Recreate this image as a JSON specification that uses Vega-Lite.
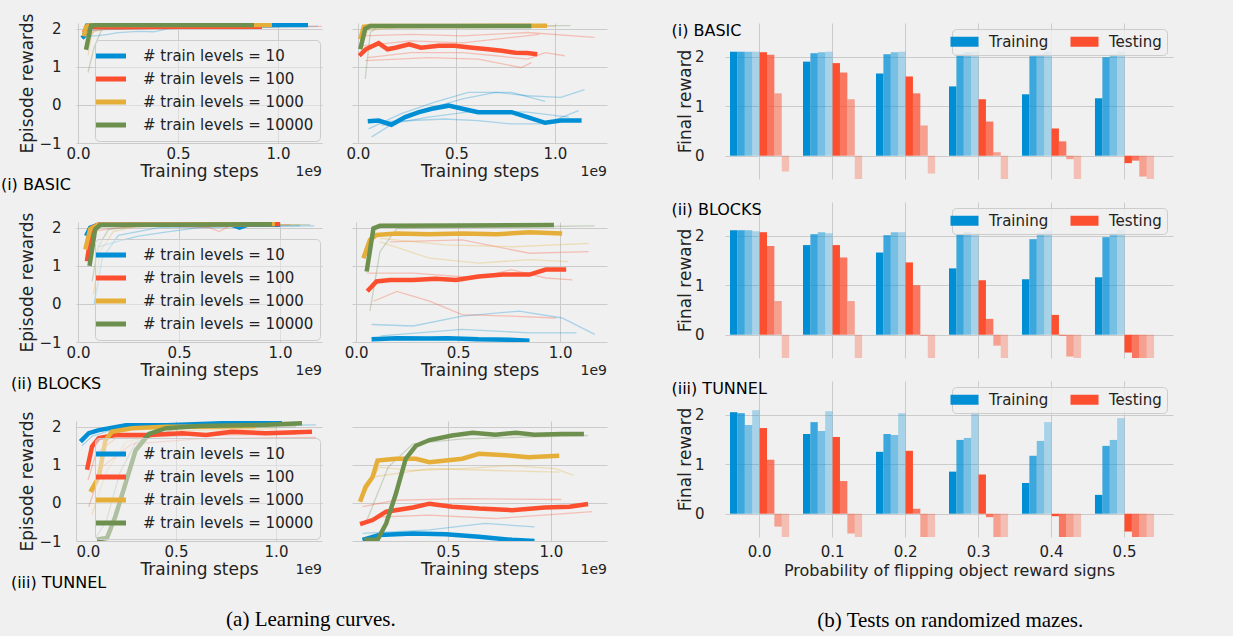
{
"$schema": "https://vega.github.io/schema/vega-lite/v6.json",
"background": "#f0f0f0",
"padding": {"left": 0, "top": 13, "right": 60, "bottom": 5},
"config": {
  "font": "DejaVu Sans",
  "view": {"stroke": null, "fill": "#f0f0f0"},
  "axis": {"grid": true, "gridColor": "#cbcbcb", "gridWidth": 1, "domain": false, "ticks": false, "labelFontSize": 15, "labelColor": "#222222", "titleFontSize": 17, "titleFontWeight": "normal", "titleColor": "#222222"},
  "title": {"fontWeight": "normal", "color": "#222222"}
},
"datasets": {
"lines": [
{"e":"B","p":"tr","l":"10","r":1,"x":0.04,"y":1.8},{"e":"B","p":"tr","l":"10","r":1,"x":0.1,"y":1.82},{"e":"B","p":"tr","l":"10","r":1,"x":0.15,"y":1.85},{"e":"B","p":"tr","l":"10","r":1,"x":0.2,"y":1.9},{"e":"B","p":"tr","l":"10","r":1,"x":0.3,"y":1.93},{"e":"B","p":"tr","l":"10","r":1,"x":0.38,"y":1.92},{"e":"B","p":"tr","l":"10","r":1,"x":0.45,"y":2.0},{"e":"B","p":"tr","l":"10","r":1,"x":0.7,"y":2.02},{"e":"B","p":"tr","l":"10","r":1,"x":1.0,"y":2.05},
{"e":"B","p":"tr","l":"10","r":2,"x":0.05,"y":1.95},{"e":"B","p":"tr","l":"10","r":2,"x":0.15,"y":1.98},{"e":"B","p":"tr","l":"10","r":2,"x":0.3,"y":2.0},{"e":"B","p":"tr","l":"10","r":2,"x":0.5,"y":2.03},{"e":"B","p":"tr","l":"10","r":2,"x":0.8,"y":2.05},{"e":"B","p":"tr","l":"10","r":2,"x":1.2,"y":2.06},
{"e":"B","p":"tr","l":"100","r":1,"x":0.04,"y":1.6},{"e":"B","p":"tr","l":"100","r":1,"x":0.08,"y":1.95},{"e":"B","p":"tr","l":"100","r":1,"x":0.2,"y":2.02},{"e":"B","p":"tr","l":"100","r":1,"x":0.6,"y":2.04},{"e":"B","p":"tr","l":"100","r":1,"x":1.22,"y":2.06},
{"e":"B","p":"tr","l":"1000","r":1,"x":0.05,"y":1.3},{"e":"B","p":"tr","l":"1000","r":1,"x":0.07,"y":1.9},{"e":"B","p":"tr","l":"1000","r":1,"x":0.15,"y":2.05},{"e":"B","p":"tr","l":"1000","r":1,"x":0.6,"y":2.08},{"e":"B","p":"tr","l":"1000","r":1,"x":1.1,"y":2.08},
{"e":"B","p":"tr","l":"10000","r":1,"x":0.05,"y":0.85},{"e":"B","p":"tr","l":"10000","r":1,"x":0.08,"y":1.5},{"e":"B","p":"tr","l":"10000","r":1,"x":0.12,"y":2.0},{"e":"B","p":"tr","l":"10000","r":1,"x":0.2,"y":2.08},{"e":"B","p":"tr","l":"10000","r":1,"x":0.8,"y":2.09},{"e":"B","p":"tr","l":"10000","r":1,"x":1.0,"y":2.1},
{"e":"B","p":"tr","l":"10","r":0,"x":0.02,"y":1.75},{"e":"B","p":"tr","l":"10","r":0,"x":0.03,"y":1.8},{"e":"B","p":"tr","l":"10","r":0,"x":0.045,"y":2.08},{"e":"B","p":"tr","l":"10","r":0,"x":0.1,"y":2.1},{"e":"B","p":"tr","l":"10","r":0,"x":0.5,"y":2.1},{"e":"B","p":"tr","l":"10","r":0,"x":1.0,"y":2.1},{"e":"B","p":"tr","l":"10","r":0,"x":1.15,"y":2.1},
{"e":"B","p":"tr","l":"100","r":0,"x":0.03,"y":1.9},{"e":"B","p":"tr","l":"100","r":0,"x":0.045,"y":2.05},{"e":"B","p":"tr","l":"100","r":0,"x":0.2,"y":2.04},{"e":"B","p":"tr","l":"100","r":0,"x":0.5,"y":2.05},{"e":"B","p":"tr","l":"100","r":0,"x":0.92,"y":2.05},
{"e":"B","p":"tr","l":"1000","r":0,"x":0.03,"y":1.8},{"e":"B","p":"tr","l":"1000","r":0,"x":0.04,"y":2.05},{"e":"B","p":"tr","l":"1000","r":0,"x":0.06,"y":2.1},{"e":"B","p":"tr","l":"1000","r":0,"x":0.5,"y":2.1},{"e":"B","p":"tr","l":"1000","r":0,"x":0.97,"y":2.1},
{"e":"B","p":"tr","l":"10000","r":0,"x":0.04,"y":1.45},{"e":"B","p":"tr","l":"10000","r":0,"x":0.05,"y":1.7},{"e":"B","p":"tr","l":"10000","r":0,"x":0.065,"y":2.08},{"e":"B","p":"tr","l":"10000","r":0,"x":0.1,"y":2.1},{"e":"B","p":"tr","l":"10000","r":0,"x":0.5,"y":2.1},{"e":"B","p":"tr","l":"10000","r":0,"x":0.88,"y":2.1},

{"e":"B","p":"te","l":"10","r":1,"x":0.07,"y":-0.84},{"e":"B","p":"te","l":"10","r":1,"x":0.19,"y":-0.45},{"e":"B","p":"te","l":"10","r":1,"x":0.36,"y":-0.1},{"e":"B","p":"te","l":"10","r":1,"x":0.53,"y":0.16},{"e":"B","p":"te","l":"10","r":1,"x":0.7,"y":0.33},{"e":"B","p":"te","l":"10","r":1,"x":0.86,"y":0.24},{"e":"B","p":"te","l":"10","r":1,"x":1.03,"y":0.2},{"e":"B","p":"te","l":"10","r":1,"x":1.15,"y":0.4},
{"e":"B","p":"te","l":"10","r":2,"x":0.054,"y":-0.63},{"e":"B","p":"te","l":"10","r":2,"x":0.22,"y":-0.23},{"e":"B","p":"te","l":"10","r":2,"x":0.39,"y":0.07},{"e":"B","p":"te","l":"10","r":2,"x":0.56,"y":0.33},{"e":"B","p":"te","l":"10","r":2,"x":0.78,"y":0.33},{"e":"B","p":"te","l":"10","r":2,"x":0.95,"y":0.09},
{"e":"B","p":"te","l":"10","r":3,"x":0.07,"y":-0.45},{"e":"B","p":"te","l":"10","r":3,"x":0.27,"y":-0.41},{"e":"B","p":"te","l":"10","r":3,"x":0.44,"y":-0.37},{"e":"B","p":"te","l":"10","r":3,"x":0.61,"y":-0.41},{"e":"B","p":"te","l":"10","r":3,"x":0.78,"y":-0.5},{"e":"B","p":"te","l":"10","r":3,"x":0.95,"y":-0.5},{"e":"B","p":"te","l":"10","r":3,"x":1.12,"y":-0.15},
{"e":"B","p":"te","l":"10","r":4,"x":0.12,"y":-0.54},{"e":"B","p":"te","l":"10","r":4,"x":0.36,"y":-0.32},{"e":"B","p":"te","l":"10","r":4,"x":0.61,"y":-0.15},{"e":"B","p":"te","l":"10","r":4,"x":0.86,"y":-0.19},{"e":"B","p":"te","l":"10","r":4,"x":1.07,"y":-0.32},
{"e":"B","p":"te","l":"100","r":1,"x":0.02,"y":1.81},{"e":"B","p":"te","l":"100","r":1,"x":0.27,"y":1.85},{"e":"B","p":"te","l":"100","r":1,"x":0.53,"y":1.81},{"e":"B","p":"te","l":"100","r":1,"x":0.86,"y":1.9},{"e":"B","p":"te","l":"100","r":1,"x":1.2,"y":1.77},
{"e":"B","p":"te","l":"100","r":2,"x":0.02,"y":1.55},{"e":"B","p":"te","l":"100","r":2,"x":0.27,"y":1.68},{"e":"B","p":"te","l":"100","r":2,"x":0.53,"y":1.63},{"e":"B","p":"te","l":"100","r":2,"x":0.92,"y":1.85},
{"e":"B","p":"te","l":"100","r":3,"x":0.05,"y":1.24},{"e":"B","p":"te","l":"100","r":3,"x":0.27,"y":1.37},{"e":"B","p":"te","l":"100","r":3,"x":0.53,"y":1.37},{"e":"B","p":"te","l":"100","r":3,"x":0.7,"y":1.29},{"e":"B","p":"te","l":"100","r":3,"x":0.86,"y":1.2},{"e":"B","p":"te","l":"100","r":3,"x":0.95,"y":1.37},{"e":"B","p":"te","l":"100","r":3,"x":1.05,"y":1.29},
{"e":"B","p":"te","l":"100","r":4,"x":0.037,"y":1.16},{"e":"B","p":"te","l":"100","r":4,"x":0.36,"y":1.24},{"e":"B","p":"te","l":"100","r":4,"x":0.61,"y":1.2},{"e":"B","p":"te","l":"100","r":4,"x":0.83,"y":0.98},{"e":"B","p":"te","l":"100","r":4,"x":0.88,"y":1.11},
{"e":"B","p":"te","l":"1000","r":1,"x":0.02,"y":1.6},{"e":"B","p":"te","l":"1000","r":1,"x":0.05,"y":1.95},{"e":"B","p":"te","l":"1000","r":1,"x":0.2,"y":2.03},{"e":"B","p":"te","l":"1000","r":1,"x":0.6,"y":2.05},{"e":"B","p":"te","l":"1000","r":1,"x":1.0,"y":2.06},
{"e":"B","p":"te","l":"10000","r":1,"x":0.037,"y":0.68},{"e":"B","p":"te","l":"10000","r":1,"x":0.063,"y":1.9},{"e":"B","p":"te","l":"10000","r":1,"x":0.1,"y":2.05},{"e":"B","p":"te","l":"10000","r":1,"x":0.6,"y":2.07},{"e":"B","p":"te","l":"10000","r":1,"x":1.08,"y":2.08},
{"e":"B","p":"te","l":"10","r":0,"x":0.05,"y":-0.43},{"e":"B","p":"te","l":"10","r":0,"x":0.105,"y":-0.41},{"e":"B","p":"te","l":"10","r":0,"x":0.17,"y":-0.52},{"e":"B","p":"te","l":"10","r":0,"x":0.24,"y":-0.32},{"e":"B","p":"te","l":"10","r":0,"x":0.31,"y":-0.19},{"e":"B","p":"te","l":"10","r":0,"x":0.375,"y":-0.1},{"e":"B","p":"te","l":"10","r":0,"x":0.46,"y":-0.02},{"e":"B","p":"te","l":"10","r":0,"x":0.53,"y":-0.1},{"e":"B","p":"te","l":"10","r":0,"x":0.61,"y":-0.19},{"e":"B","p":"te","l":"10","r":0,"x":0.7,"y":-0.19},{"e":"B","p":"te","l":"10","r":0,"x":0.78,"y":-0.19},{"e":"B","p":"te","l":"10","r":0,"x":0.86,"y":-0.32},{"e":"B","p":"te","l":"10","r":0,"x":0.95,"y":-0.47},{"e":"B","p":"te","l":"10","r":0,"x":1.03,"y":-0.41},{"e":"B","p":"te","l":"10","r":0,"x":1.135,"y":-0.41},
{"e":"B","p":"te","l":"100","r":0,"x":0.007,"y":1.29},{"e":"B","p":"te","l":"100","r":0,"x":0.04,"y":1.46},{"e":"B","p":"te","l":"100","r":0,"x":0.105,"y":1.62},{"e":"B","p":"te","l":"100","r":0,"x":0.15,"y":1.46},{"e":"B","p":"te","l":"100","r":0,"x":0.19,"y":1.5},{"e":"B","p":"te","l":"100","r":0,"x":0.26,"y":1.59},{"e":"B","p":"te","l":"100","r":0,"x":0.32,"y":1.5},{"e":"B","p":"te","l":"100","r":0,"x":0.41,"y":1.55},{"e":"B","p":"te","l":"100","r":0,"x":0.49,"y":1.55},{"e":"B","p":"te","l":"100","r":0,"x":0.58,"y":1.5},{"e":"B","p":"te","l":"100","r":0,"x":0.66,"y":1.46},{"e":"B","p":"te","l":"100","r":0,"x":0.73,"y":1.42},{"e":"B","p":"te","l":"100","r":0,"x":0.8,"y":1.37},{"e":"B","p":"te","l":"100","r":0,"x":0.86,"y":1.36},{"e":"B","p":"te","l":"100","r":0,"x":0.91,"y":1.33},
{"e":"B","p":"te","l":"1000","r":0,"x":0.012,"y":1.72},{"e":"B","p":"te","l":"1000","r":0,"x":0.03,"y":2.05},{"e":"B","p":"te","l":"1000","r":0,"x":0.06,"y":2.07},{"e":"B","p":"te","l":"1000","r":0,"x":0.5,"y":2.07},{"e":"B","p":"te","l":"1000","r":0,"x":0.96,"y":2.08},
{"e":"B","p":"te","l":"10000","r":0,"x":0.012,"y":1.46},{"e":"B","p":"te","l":"10000","r":0,"x":0.037,"y":2.0},{"e":"B","p":"te","l":"10000","r":0,"x":0.063,"y":2.07},{"e":"B","p":"te","l":"10000","r":0,"x":0.5,"y":2.07},{"e":"B","p":"te","l":"10000","r":0,"x":0.88,"y":2.07},

{"e":"K","p":"tr","l":"10","r":1,"x":0.1,"y":1.5},{"e":"K","p":"tr","l":"10","r":1,"x":0.2,"y":1.65},{"e":"K","p":"tr","l":"10","r":1,"x":0.3,"y":1.78},{"e":"K","p":"tr","l":"10","r":1,"x":0.45,"y":1.9},{"e":"K","p":"tr","l":"10","r":1,"x":0.6,"y":2.0},{"e":"K","p":"tr","l":"10","r":1,"x":0.9,"y":2.05},{"e":"K","p":"tr","l":"10","r":1,"x":1.17,"y":2.05},
{"e":"K","p":"tr","l":"10","r":2,"x":0.08,"y":0.0},{"e":"K","p":"tr","l":"10","r":2,"x":0.12,"y":1.2},{"e":"K","p":"tr","l":"10","r":2,"x":0.2,"y":1.8},{"e":"K","p":"tr","l":"10","r":2,"x":0.4,"y":2.0},{"e":"K","p":"tr","l":"10","r":2,"x":1.1,"y":2.05},
{"e":"K","p":"tr","l":"100","r":1,"x":0.06,"y":1.9},{"e":"K","p":"tr","l":"100","r":1,"x":0.2,"y":2.0},{"e":"K","p":"tr","l":"100","r":1,"x":0.4,"y":2.05},{"e":"K","p":"tr","l":"100","r":1,"x":0.65,"y":2.0},{"e":"K","p":"tr","l":"100","r":1,"x":0.7,"y":1.9},{"e":"K","p":"tr","l":"100","r":1,"x":0.75,"y":2.05},{"e":"K","p":"tr","l":"100","r":1,"x":1.05,"y":2.08},
{"e":"K","p":"tr","l":"1000","r":1,"x":0.077,"y":0.25},{"e":"K","p":"tr","l":"1000","r":1,"x":0.11,"y":1.38},{"e":"K","p":"tr","l":"1000","r":1,"x":0.175,"y":1.9},{"e":"K","p":"tr","l":"1000","r":1,"x":0.3,"y":2.05},{"e":"K","p":"tr","l":"1000","r":1,"x":1.1,"y":2.08},
{"e":"K","p":"tr","l":"10000","r":1,"x":0.07,"y":0.6},{"e":"K","p":"tr","l":"10000","r":1,"x":0.1,"y":1.5},{"e":"K","p":"tr","l":"10000","r":1,"x":0.15,"y":1.95},{"e":"K","p":"tr","l":"10000","r":1,"x":0.3,"y":2.05},{"e":"K","p":"tr","l":"10000","r":1,"x":1.15,"y":2.08},
{"e":"K","p":"tr","l":"10","r":0,"x":0.04,"y":1.78},{"e":"K","p":"tr","l":"10","r":0,"x":0.06,"y":2.0},{"e":"K","p":"tr","l":"10","r":0,"x":0.1,"y":2.08},{"e":"K","p":"tr","l":"10","r":0,"x":0.5,"y":2.08},{"e":"K","p":"tr","l":"10","r":0,"x":0.76,"y":2.08},{"e":"K","p":"tr","l":"10","r":0,"x":0.8,"y":2.0},{"e":"K","p":"tr","l":"10","r":0,"x":0.84,"y":2.08},{"e":"K","p":"tr","l":"10","r":0,"x":1.0,"y":2.08},
{"e":"K","p":"tr","l":"100","r":0,"x":0.044,"y":1.12},{"e":"K","p":"tr","l":"100","r":0,"x":0.07,"y":2.0},{"e":"K","p":"tr","l":"100","r":0,"x":0.1,"y":2.08},{"e":"K","p":"tr","l":"100","r":0,"x":0.5,"y":2.08},{"e":"K","p":"tr","l":"100","r":0,"x":1.0,"y":2.1},
{"e":"K","p":"tr","l":"1000","r":0,"x":0.036,"y":1.43},{"e":"K","p":"tr","l":"1000","r":0,"x":0.06,"y":1.96},{"e":"K","p":"tr","l":"1000","r":0,"x":0.1,"y":2.08},{"e":"K","p":"tr","l":"1000","r":0,"x":0.5,"y":2.08},{"e":"K","p":"tr","l":"1000","r":0,"x":0.975,"y":2.1},
{"e":"K","p":"tr","l":"10000","r":0,"x":0.057,"y":1.0},{"e":"K","p":"tr","l":"10000","r":0,"x":0.085,"y":1.96},{"e":"K","p":"tr","l":"10000","r":0,"x":0.11,"y":2.07},{"e":"K","p":"tr","l":"10000","r":0,"x":0.5,"y":2.08},{"e":"K","p":"tr","l":"10000","r":0,"x":0.96,"y":2.09},

{"e":"K","p":"te","l":"10","r":1,"x":0.076,"y":-0.54},{"e":"K","p":"te","l":"10","r":1,"x":0.28,"y":-0.58},{"e":"K","p":"te","l":"10","r":1,"x":0.52,"y":-0.32},{"e":"K","p":"te","l":"10","r":1,"x":0.8,"y":-0.19},{"e":"K","p":"te","l":"10","r":1,"x":1.01,"y":-0.37},{"e":"K","p":"te","l":"10","r":1,"x":1.17,"y":-0.8},
{"e":"K","p":"te","l":"10","r":2,"x":0.12,"y":-0.84},{"e":"K","p":"te","l":"10","r":2,"x":0.52,"y":-0.67},{"e":"K","p":"te","l":"10","r":2,"x":0.85,"y":-0.76},{"e":"K","p":"te","l":"10","r":2,"x":1.08,"y":-0.76},
{"e":"K","p":"te","l":"100","r":1,"x":0.085,"y":0.07},{"e":"K","p":"te","l":"100","r":1,"x":0.2,"y":0.33},{"e":"K","p":"te","l":"100","r":1,"x":0.36,"y":0.07},{"e":"K","p":"te","l":"100","r":1,"x":0.52,"y":-0.28},{"e":"K","p":"te","l":"100","r":1,"x":0.76,"y":-0.32},{"e":"K","p":"te","l":"100","r":1,"x":0.98,"y":-0.37},
{"e":"K","p":"te","l":"100","r":2,"x":0.052,"y":0.81},{"e":"K","p":"te","l":"100","r":2,"x":0.28,"y":0.81},{"e":"K","p":"te","l":"100","r":2,"x":0.6,"y":0.68},{"e":"K","p":"te","l":"100","r":2,"x":0.76,"y":0.9},{"e":"K","p":"te","l":"100","r":2,"x":0.93,"y":0.68},{"e":"K","p":"te","l":"100","r":2,"x":1.06,"y":0.63},
{"e":"K","p":"te","l":"100","r":3,"x":0.166,"y":1.63},{"e":"K","p":"te","l":"100","r":3,"x":0.52,"y":1.68},{"e":"K","p":"te","l":"100","r":3,"x":0.85,"y":1.33},{"e":"K","p":"te","l":"100","r":3,"x":1.14,"y":1.37},
{"e":"K","p":"te","l":"1000","r":1,"x":0.117,"y":1.63},{"e":"K","p":"te","l":"1000","r":1,"x":0.36,"y":1.2},{"e":"K","p":"te","l":"1000","r":1,"x":0.6,"y":1.07},{"e":"K","p":"te","l":"1000","r":1,"x":0.85,"y":1.16},{"e":"K","p":"te","l":"1000","r":1,"x":1.04,"y":1.11},
{"e":"K","p":"te","l":"1000","r":2,"x":0.117,"y":1.72},{"e":"K","p":"te","l":"1000","r":2,"x":0.44,"y":1.55},{"e":"K","p":"te","l":"1000","r":2,"x":0.77,"y":1.5},{"e":"K","p":"te","l":"1000","r":2,"x":1.14,"y":1.59},
{"e":"K","p":"te","l":"10000","r":1,"x":0.068,"y":-0.19},{"e":"K","p":"te","l":"10000","r":1,"x":0.117,"y":1.37},{"e":"K","p":"te","l":"10000","r":1,"x":0.2,"y":1.98},{"e":"K","p":"te","l":"10000","r":1,"x":1.17,"y":2.05},
{"e":"K","p":"te","l":"10","r":0,"x":0.076,"y":-0.93},{"e":"K","p":"te","l":"10","r":0,"x":0.2,"y":-0.9},{"e":"K","p":"te","l":"10","r":0,"x":0.36,"y":-0.91},{"e":"K","p":"te","l":"10","r":0,"x":0.45,"y":-0.9},{"e":"K","p":"te","l":"10","r":0,"x":0.6,"y":-0.93},{"e":"K","p":"te","l":"10","r":0,"x":0.75,"y":-0.94},{"e":"K","p":"te","l":"10","r":0,"x":0.85,"y":-0.97},
{"e":"K","p":"te","l":"100","r":0,"x":0.055,"y":0.33},{"e":"K","p":"te","l":"100","r":0,"x":0.1,"y":0.59},{"e":"K","p":"te","l":"100","r":0,"x":0.166,"y":0.63},{"e":"K","p":"te","l":"100","r":0,"x":0.28,"y":0.63},{"e":"K","p":"te","l":"100","r":0,"x":0.39,"y":0.66},{"e":"K","p":"te","l":"100","r":0,"x":0.49,"y":0.63},{"e":"K","p":"te","l":"100","r":0,"x":0.6,"y":0.72},{"e":"K","p":"te","l":"100","r":0,"x":0.72,"y":0.77},{"e":"K","p":"te","l":"100","r":0,"x":0.85,"y":0.77},{"e":"K","p":"te","l":"100","r":0,"x":0.93,"y":0.9},{"e":"K","p":"te","l":"100","r":0,"x":1.03,"y":0.9},
{"e":"K","p":"te","l":"1000","r":0,"x":0.036,"y":1.2},{"e":"K","p":"te","l":"1000","r":0,"x":0.068,"y":1.68},{"e":"K","p":"te","l":"1000","r":0,"x":0.1,"y":1.81},{"e":"K","p":"te","l":"1000","r":0,"x":0.2,"y":1.85},{"e":"K","p":"te","l":"1000","r":0,"x":0.36,"y":1.83},{"e":"K","p":"te","l":"1000","r":0,"x":0.52,"y":1.85},{"e":"K","p":"te","l":"1000","r":0,"x":0.69,"y":1.83},{"e":"K","p":"te","l":"1000","r":0,"x":0.85,"y":1.88},{"e":"K","p":"te","l":"1000","r":0,"x":1.01,"y":1.85},
{"e":"K","p":"te","l":"10000","r":0,"x":0.052,"y":0.85},{"e":"K","p":"te","l":"10000","r":0,"x":0.085,"y":1.98},{"e":"K","p":"te","l":"10000","r":0,"x":0.117,"y":2.05},{"e":"K","p":"te","l":"10000","r":0,"x":0.5,"y":2.06},{"e":"K","p":"te","l":"10000","r":0,"x":0.97,"y":2.07},

{"e":"T","p":"tr","l":"10","r":1,"x":0.03,"y":1.5},{"e":"T","p":"tr","l":"10","r":1,"x":0.08,"y":1.75},{"e":"T","p":"tr","l":"10","r":1,"x":0.2,"y":1.95},{"e":"T","p":"tr","l":"10","r":1,"x":0.5,"y":2.0},{"e":"T","p":"tr","l":"10","r":1,"x":1.2,"y":2.05},
{"e":"T","p":"tr","l":"100","r":1,"x":0.064,"y":-0.1},{"e":"T","p":"tr","l":"100","r":1,"x":0.13,"y":0.94},{"e":"T","p":"tr","l":"100","r":1,"x":0.28,"y":1.55},{"e":"T","p":"tr","l":"100","r":1,"x":0.62,"y":1.68},{"e":"T","p":"tr","l":"100","r":1,"x":1.2,"y":1.72},
{"e":"T","p":"tr","l":"100","r":2,"x":0.06,"y":0.6},{"e":"T","p":"tr","l":"100","r":2,"x":0.1,"y":1.3},{"e":"T","p":"tr","l":"100","r":2,"x":0.2,"y":1.7},{"e":"T","p":"tr","l":"100","r":2,"x":0.6,"y":1.78},{"e":"T","p":"tr","l":"100","r":2,"x":1.1,"y":1.8},
{"e":"T","p":"tr","l":"1000","r":1,"x":0.08,"y":-0.3},{"e":"T","p":"tr","l":"1000","r":1,"x":0.15,"y":0.8},{"e":"T","p":"tr","l":"1000","r":1,"x":0.25,"y":1.6},{"e":"T","p":"tr","l":"1000","r":1,"x":0.5,"y":1.9},{"e":"T","p":"tr","l":"1000","r":1,"x":1.0,"y":1.95},
{"e":"T","p":"tr","l":"10000","r":1,"x":0.1,"y":-0.9},{"e":"T","p":"tr","l":"10000","r":1,"x":0.15,"y":-0.5},{"e":"T","p":"tr","l":"10000","r":1,"x":0.22,"y":0.8},{"e":"T","p":"tr","l":"10000","r":1,"x":0.3,"y":1.6},{"e":"T","p":"tr","l":"10000","r":1,"x":0.5,"y":1.95},{"e":"T","p":"tr","l":"10000","r":1,"x":1.1,"y":2.0},
{"e":"T","p":"tr","l":"10","r":0,"x":0.022,"y":1.61},{"e":"T","p":"tr","l":"10","r":0,"x":0.064,"y":1.83},{"e":"T","p":"tr","l":"10","r":0,"x":0.114,"y":1.91},{"e":"T","p":"tr","l":"10","r":0,"x":0.25,"y":2.04},{"e":"T","p":"tr","l":"10","r":0,"x":0.45,"y":2.04},{"e":"T","p":"tr","l":"10","r":0,"x":0.78,"y":2.1},{"e":"T","p":"tr","l":"10","r":0,"x":1.03,"y":2.13},
{"e":"T","p":"tr","l":"100","r":0,"x":0.055,"y":0.87},{"e":"T","p":"tr","l":"100","r":0,"x":0.08,"y":1.48},{"e":"T","p":"tr","l":"100","r":0,"x":0.114,"y":1.7},{"e":"T","p":"tr","l":"100","r":0,"x":0.2,"y":1.78},{"e":"T","p":"tr","l":"100","r":0,"x":0.36,"y":1.78},{"e":"T","p":"tr","l":"100","r":0,"x":0.53,"y":1.83},{"e":"T","p":"tr","l":"100","r":0,"x":0.65,"y":1.78},{"e":"T","p":"tr","l":"100","r":0,"x":0.78,"y":1.87},{"e":"T","p":"tr","l":"100","r":0,"x":0.95,"y":1.83},{"e":"T","p":"tr","l":"100","r":0,"x":1.18,"y":1.87},
{"e":"T","p":"tr","l":"1000","r":0,"x":0.072,"y":0.29},{"e":"T","p":"tr","l":"1000","r":0,"x":0.114,"y":0.68},{"e":"T","p":"tr","l":"1000","r":0,"x":0.147,"y":1.64},{"e":"T","p":"tr","l":"1000","r":0,"x":0.18,"y":1.87},{"e":"T","p":"tr","l":"1000","r":0,"x":0.28,"y":1.96},{"e":"T","p":"tr","l":"1000","r":0,"x":0.45,"y":2.0},{"e":"T","p":"tr","l":"1000","r":0,"x":0.62,"y":2.0},{"e":"T","p":"tr","l":"1000","r":0,"x":0.9,"y":2.02},
{"e":"T","p":"tr","l":"10000","r":0,"x":0.105,"y":-0.96},{"e":"T","p":"tr","l":"10000","r":0,"x":0.155,"y":-0.92},{"e":"T","p":"tr","l":"10000","r":0,"x":0.197,"y":-0.35},{"e":"T","p":"tr","l":"10000","r":0,"x":0.247,"y":0.5},{"e":"T","p":"tr","l":"10000","r":0,"x":0.298,"y":1.38},{"e":"T","p":"tr","l":"10000","r":0,"x":0.365,"y":1.81},{"e":"T","p":"tr","l":"10000","r":0,"x":0.45,"y":1.96},{"e":"T","p":"tr","l":"10000","r":0,"x":0.615,"y":2.02},{"e":"T","p":"tr","l":"10000","r":0,"x":0.95,"y":2.05},{"e":"T","p":"tr","l":"10000","r":0,"x":1.13,"y":2.09},

{"e":"T","p":"te","l":"10","r":1,"x":0.085,"y":-0.8},{"e":"T","p":"te","l":"10","r":1,"x":0.41,"y":-0.71},{"e":"T","p":"te","l":"10","r":1,"x":0.68,"y":-0.54},{"e":"T","p":"te","l":"10","r":1,"x":0.92,"y":-0.63},
{"e":"T","p":"te","l":"100","r":1,"x":0.085,"y":-0.1},{"e":"T","p":"te","l":"100","r":1,"x":0.247,"y":0.07},{"e":"T","p":"te","l":"100","r":1,"x":0.57,"y":0.11},{"e":"T","p":"te","l":"100","r":1,"x":1.05,"y":0.09},
{"e":"T","p":"te","l":"100","r":2,"x":0.166,"y":-0.37},{"e":"T","p":"te","l":"100","r":2,"x":0.41,"y":-0.32},{"e":"T","p":"te","l":"100","r":2,"x":0.73,"y":-0.41},{"e":"T","p":"te","l":"100","r":2,"x":1.2,"y":-0.23},
{"e":"T","p":"te","l":"1000","r":1,"x":0.085,"y":0.16},{"e":"T","p":"te","l":"1000","r":1,"x":0.166,"y":0.94},{"e":"T","p":"te","l":"1000","r":1,"x":0.33,"y":0.85},{"e":"T","p":"te","l":"1000","r":1,"x":0.57,"y":0.9},{"e":"T","p":"te","l":"1000","r":1,"x":0.81,"y":0.98},{"e":"T","p":"te","l":"1000","r":1,"x":1.02,"y":0.9},{"e":"T","p":"te","l":"1000","r":1,"x":1.11,"y":0.72},
{"e":"T","p":"te","l":"1000","r":2,"x":0.134,"y":0.68},{"e":"T","p":"te","l":"1000","r":2,"x":0.41,"y":0.9},{"e":"T","p":"te","l":"1000","r":2,"x":0.73,"y":0.85},{"e":"T","p":"te","l":"1000","r":2,"x":1.04,"y":0.81},
{"e":"T","p":"te","l":"10000","r":1,"x":0.1,"y":-0.54},{"e":"T","p":"te","l":"10000","r":1,"x":0.21,"y":0.94},{"e":"T","p":"te","l":"10000","r":1,"x":0.33,"y":1.55},{"e":"T","p":"te","l":"10000","r":1,"x":0.57,"y":1.68},{"e":"T","p":"te","l":"10000","r":1,"x":1.18,"y":1.77},
{"e":"T","p":"te","l":"10","r":0,"x":0.085,"y":-0.97},{"e":"T","p":"te","l":"10","r":0,"x":0.166,"y":-0.84},{"e":"T","p":"te","l":"10","r":0,"x":0.33,"y":-0.8},{"e":"T","p":"te","l":"10","r":0,"x":0.49,"y":-0.82},{"e":"T","p":"te","l":"10","r":0,"x":0.65,"y":-0.89},{"e":"T","p":"te","l":"10","r":0,"x":0.81,"y":-0.97},{"e":"T","p":"te","l":"10","r":0,"x":0.92,"y":-1.0},
{"e":"T","p":"te","l":"100","r":0,"x":0.073,"y":-0.56},{"e":"T","p":"te","l":"100","r":0,"x":0.134,"y":-0.45},{"e":"T","p":"te","l":"100","r":0,"x":0.2,"y":-0.23},{"e":"T","p":"te","l":"100","r":0,"x":0.33,"y":-0.12},{"e":"T","p":"te","l":"100","r":0,"x":0.41,"y":-0.02},{"e":"T","p":"te","l":"100","r":0,"x":0.52,"y":-0.1},{"e":"T","p":"te","l":"100","r":0,"x":0.65,"y":-0.15},{"e":"T","p":"te","l":"100","r":0,"x":0.81,"y":-0.19},{"e":"T","p":"te","l":"100","r":0,"x":0.97,"y":-0.12},{"e":"T","p":"te","l":"100","r":0,"x":1.09,"y":-0.1},{"e":"T","p":"te","l":"100","r":0,"x":1.18,"y":-0.03},
{"e":"T","p":"te","l":"1000","r":0,"x":0.073,"y":0.03},{"e":"T","p":"te","l":"1000","r":0,"x":0.1,"y":0.42},{"e":"T","p":"te","l":"1000","r":0,"x":0.134,"y":0.68},{"e":"T","p":"te","l":"1000","r":0,"x":0.158,"y":1.11},{"e":"T","p":"te","l":"1000","r":0,"x":0.247,"y":1.16},{"e":"T","p":"te","l":"1000","r":0,"x":0.344,"y":1.16},{"e":"T","p":"te","l":"1000","r":0,"x":0.41,"y":1.07},{"e":"T","p":"te","l":"1000","r":0,"x":0.57,"y":1.16},{"e":"T","p":"te","l":"1000","r":0,"x":0.65,"y":1.29},{"e":"T","p":"te","l":"1000","r":0,"x":0.81,"y":1.24},{"e":"T","p":"te","l":"1000","r":0,"x":0.89,"y":1.2},{"e":"T","p":"te","l":"1000","r":0,"x":1.04,"y":1.24},
{"e":"T","p":"te","l":"10000","r":0,"x":0.094,"y":-0.97},{"e":"T","p":"te","l":"10000","r":0,"x":0.158,"y":-0.97},{"e":"T","p":"te","l":"10000","r":0,"x":0.2,"y":-0.54},{"e":"T","p":"te","l":"10000","r":0,"x":0.247,"y":0.24},{"e":"T","p":"te","l":"10000","r":0,"x":0.295,"y":1.16},{"e":"T","p":"te","l":"10000","r":0,"x":0.344,"y":1.5},{"e":"T","p":"te","l":"10000","r":0,"x":0.41,"y":1.65},{"e":"T","p":"te","l":"10000","r":0,"x":0.52,"y":1.77},{"e":"T","p":"te","l":"10000","r":0,"x":0.62,"y":1.84},{"e":"T","p":"te","l":"10000","r":0,"x":0.73,"y":1.79},{"e":"T","p":"te","l":"10000","r":0,"x":0.83,"y":1.84},{"e":"T","p":"te","l":"10000","r":0,"x":0.92,"y":1.79},{"e":"T","p":"te","l":"10000","r":0,"x":1.05,"y":1.81},{"e":"T","p":"te","l":"10000","r":0,"x":1.16,"y":1.81}
],
"bars": [
{"e":"B","prob":"0.0","bar":0,"kind":"Training","s":1,"v":2.1},{"e":"B","prob":"0.0","bar":1,"kind":"Training","s":2,"v":2.1},{"e":"B","prob":"0.0","bar":2,"kind":"Training","s":3,"v":2.1},{"e":"B","prob":"0.0","bar":3,"kind":"Training","s":4,"v":2.1},{"e":"B","prob":"0.0","bar":4,"kind":"Testing","s":1,"v":2.09},{"e":"B","prob":"0.0","bar":5,"kind":"Testing","s":2,"v":2.04},{"e":"B","prob":"0.0","bar":6,"kind":"Testing","s":3,"v":1.26},{"e":"B","prob":"0.0","bar":7,"kind":"Testing","s":4,"v":-0.32},
{"e":"B","prob":"0.1","bar":0,"kind":"Training","s":1,"v":1.9},{"e":"B","prob":"0.1","bar":1,"kind":"Training","s":2,"v":2.07},{"e":"B","prob":"0.1","bar":2,"kind":"Training","s":3,"v":2.09},{"e":"B","prob":"0.1","bar":3,"kind":"Training","s":4,"v":2.1},{"e":"B","prob":"0.1","bar":4,"kind":"Testing","s":1,"v":1.87},{"e":"B","prob":"0.1","bar":5,"kind":"Testing","s":2,"v":1.68},{"e":"B","prob":"0.1","bar":6,"kind":"Testing","s":3,"v":1.14},{"e":"B","prob":"0.1","bar":7,"kind":"Testing","s":4,"v":-0.6},
{"e":"B","prob":"0.2","bar":0,"kind":"Training","s":1,"v":1.66},{"e":"B","prob":"0.2","bar":1,"kind":"Training","s":2,"v":2.05},{"e":"B","prob":"0.2","bar":2,"kind":"Training","s":3,"v":2.09},{"e":"B","prob":"0.2","bar":3,"kind":"Training","s":4,"v":2.1},{"e":"B","prob":"0.2","bar":4,"kind":"Testing","s":1,"v":1.6},{"e":"B","prob":"0.2","bar":5,"kind":"Testing","s":2,"v":1.26},{"e":"B","prob":"0.2","bar":6,"kind":"Testing","s":3,"v":0.61},{"e":"B","prob":"0.2","bar":7,"kind":"Testing","s":4,"v":-0.36},
{"e":"B","prob":"0.3","bar":0,"kind":"Training","s":1,"v":1.4},{"e":"B","prob":"0.3","bar":1,"kind":"Training","s":2,"v":2.05},{"e":"B","prob":"0.3","bar":2,"kind":"Training","s":3,"v":2.09},{"e":"B","prob":"0.3","bar":3,"kind":"Training","s":4,"v":2.1},{"e":"B","prob":"0.3","bar":4,"kind":"Testing","s":1,"v":1.14},{"e":"B","prob":"0.3","bar":5,"kind":"Testing","s":2,"v":0.69},{"e":"B","prob":"0.3","bar":6,"kind":"Testing","s":3,"v":0.07},{"e":"B","prob":"0.3","bar":7,"kind":"Testing","s":4,"v":-0.6},
{"e":"B","prob":"0.4","bar":0,"kind":"Training","s":1,"v":1.24},{"e":"B","prob":"0.4","bar":1,"kind":"Training","s":2,"v":2.01},{"e":"B","prob":"0.4","bar":2,"kind":"Training","s":3,"v":2.05},{"e":"B","prob":"0.4","bar":3,"kind":"Training","s":4,"v":2.1},{"e":"B","prob":"0.4","bar":4,"kind":"Testing","s":1,"v":0.55},{"e":"B","prob":"0.4","bar":5,"kind":"Testing","s":2,"v":0.29},{"e":"B","prob":"0.4","bar":6,"kind":"Testing","s":3,"v":-0.07},{"e":"B","prob":"0.4","bar":7,"kind":"Testing","s":4,"v":-0.6},
{"e":"B","prob":"0.5","bar":0,"kind":"Training","s":1,"v":1.16},{"e":"B","prob":"0.5","bar":1,"kind":"Training","s":2,"v":1.99},{"e":"B","prob":"0.5","bar":2,"kind":"Training","s":3,"v":2.05},{"e":"B","prob":"0.5","bar":3,"kind":"Training","s":4,"v":2.1},{"e":"B","prob":"0.5","bar":4,"kind":"Testing","s":1,"v":-0.15},{"e":"B","prob":"0.5","bar":5,"kind":"Testing","s":2,"v":-0.1},{"e":"B","prob":"0.5","bar":6,"kind":"Testing","s":3,"v":-0.42},{"e":"B","prob":"0.5","bar":7,"kind":"Testing","s":4,"v":-0.6},
{"e":"K","prob":"0.0","bar":0,"kind":"Training","s":1,"v":2.11},{"e":"K","prob":"0.0","bar":1,"kind":"Training","s":2,"v":2.11},{"e":"K","prob":"0.0","bar":2,"kind":"Training","s":3,"v":2.11},{"e":"K","prob":"0.0","bar":3,"kind":"Training","s":4,"v":2.09},{"e":"K","prob":"0.0","bar":4,"kind":"Testing","s":1,"v":2.07},{"e":"K","prob":"0.0","bar":5,"kind":"Testing","s":2,"v":1.79},{"e":"K","prob":"0.0","bar":6,"kind":"Testing","s":3,"v":0.68},{"e":"K","prob":"0.0","bar":7,"kind":"Testing","s":4,"v":-0.6},
{"e":"K","prob":"0.1","bar":0,"kind":"Training","s":1,"v":1.81},{"e":"K","prob":"0.1","bar":1,"kind":"Training","s":2,"v":2.03},{"e":"K","prob":"0.1","bar":2,"kind":"Training","s":3,"v":2.07},{"e":"K","prob":"0.1","bar":3,"kind":"Training","s":4,"v":2.05},{"e":"K","prob":"0.1","bar":4,"kind":"Testing","s":1,"v":1.81},{"e":"K","prob":"0.1","bar":5,"kind":"Testing","s":2,"v":1.56},{"e":"K","prob":"0.1","bar":6,"kind":"Testing","s":3,"v":0.68},{"e":"K","prob":"0.1","bar":7,"kind":"Testing","s":4,"v":-0.6},
{"e":"K","prob":"0.2","bar":0,"kind":"Training","s":1,"v":1.66},{"e":"K","prob":"0.2","bar":1,"kind":"Training","s":2,"v":2.01},{"e":"K","prob":"0.2","bar":2,"kind":"Training","s":3,"v":2.07},{"e":"K","prob":"0.2","bar":3,"kind":"Training","s":4,"v":2.07},{"e":"K","prob":"0.2","bar":4,"kind":"Testing","s":1,"v":1.46},{"e":"K","prob":"0.2","bar":5,"kind":"Testing","s":2,"v":1.0},{"e":"K","prob":"0.2","bar":6,"kind":"Testing","s":3,"v":-0.02},{"e":"K","prob":"0.2","bar":7,"kind":"Testing","s":4,"v":-0.6},
{"e":"K","prob":"0.3","bar":0,"kind":"Training","s":1,"v":1.34},{"e":"K","prob":"0.3","bar":1,"kind":"Training","s":2,"v":2.03},{"e":"K","prob":"0.3","bar":2,"kind":"Training","s":3,"v":2.07},{"e":"K","prob":"0.3","bar":3,"kind":"Training","s":4,"v":2.05},{"e":"K","prob":"0.3","bar":4,"kind":"Testing","s":1,"v":1.1},{"e":"K","prob":"0.3","bar":5,"kind":"Testing","s":2,"v":0.32},{"e":"K","prob":"0.3","bar":6,"kind":"Testing","s":3,"v":-0.22},{"e":"K","prob":"0.3","bar":7,"kind":"Testing","s":4,"v":-0.6},
{"e":"K","prob":"0.4","bar":0,"kind":"Training","s":1,"v":1.12},{"e":"K","prob":"0.4","bar":1,"kind":"Training","s":2,"v":1.93},{"e":"K","prob":"0.4","bar":2,"kind":"Training","s":3,"v":2.05},{"e":"K","prob":"0.4","bar":3,"kind":"Training","s":4,"v":2.09},{"e":"K","prob":"0.4","bar":4,"kind":"Testing","s":1,"v":0.4},{"e":"K","prob":"0.4","bar":5,"kind":"Testing","s":2,"v":-0.02},{"e":"K","prob":"0.4","bar":6,"kind":"Testing","s":3,"v":-0.44},{"e":"K","prob":"0.4","bar":7,"kind":"Testing","s":4,"v":-0.6},
{"e":"K","prob":"0.5","bar":0,"kind":"Training","s":1,"v":1.16},{"e":"K","prob":"0.5","bar":1,"kind":"Training","s":2,"v":1.97},{"e":"K","prob":"0.5","bar":2,"kind":"Training","s":3,"v":2.05},{"e":"K","prob":"0.5","bar":3,"kind":"Training","s":4,"v":2.11},{"e":"K","prob":"0.5","bar":4,"kind":"Testing","s":1,"v":-0.36},{"e":"K","prob":"0.5","bar":5,"kind":"Testing","s":2,"v":-0.6},{"e":"K","prob":"0.5","bar":6,"kind":"Testing","s":3,"v":-0.6},{"e":"K","prob":"0.5","bar":7,"kind":"Testing","s":4,"v":-0.6},
{"e":"T","prob":"0.0","bar":0,"kind":"Training","s":1,"v":2.05},{"e":"T","prob":"0.0","bar":1,"kind":"Training","s":2,"v":2.03},{"e":"T","prob":"0.0","bar":2,"kind":"Training","s":3,"v":1.79},{"e":"T","prob":"0.0","bar":3,"kind":"Training","s":4,"v":2.09},{"e":"T","prob":"0.0","bar":4,"kind":"Testing","s":1,"v":1.73},{"e":"T","prob":"0.0","bar":5,"kind":"Testing","s":2,"v":1.09},{"e":"T","prob":"0.0","bar":6,"kind":"Testing","s":3,"v":-0.26},{"e":"T","prob":"0.0","bar":7,"kind":"Testing","s":4,"v":-0.6},
{"e":"T","prob":"0.1","bar":0,"kind":"Training","s":1,"v":1.61},{"e":"T","prob":"0.1","bar":1,"kind":"Training","s":2,"v":1.85},{"e":"T","prob":"0.1","bar":2,"kind":"Training","s":3,"v":1.67},{"e":"T","prob":"0.1","bar":3,"kind":"Training","s":4,"v":2.07},{"e":"T","prob":"0.1","bar":4,"kind":"Testing","s":1,"v":1.55},{"e":"T","prob":"0.1","bar":5,"kind":"Testing","s":2,"v":0.66},{"e":"T","prob":"0.1","bar":6,"kind":"Testing","s":3,"v":-0.4},{"e":"T","prob":"0.1","bar":7,"kind":"Testing","s":4,"v":-0.6},
{"e":"T","prob":"0.2","bar":0,"kind":"Training","s":1,"v":1.25},{"e":"T","prob":"0.2","bar":1,"kind":"Training","s":2,"v":1.61},{"e":"T","prob":"0.2","bar":2,"kind":"Training","s":3,"v":1.59},{"e":"T","prob":"0.2","bar":3,"kind":"Training","s":4,"v":2.03},{"e":"T","prob":"0.2","bar":4,"kind":"Testing","s":1,"v":1.27},{"e":"T","prob":"0.2","bar":5,"kind":"Testing","s":2,"v":0.1},{"e":"T","prob":"0.2","bar":6,"kind":"Testing","s":3,"v":-0.6},{"e":"T","prob":"0.2","bar":7,"kind":"Testing","s":4,"v":-0.6},
{"e":"T","prob":"0.3","bar":0,"kind":"Training","s":1,"v":0.85},{"e":"T","prob":"0.3","bar":1,"kind":"Training","s":2,"v":1.49},{"e":"T","prob":"0.3","bar":2,"kind":"Training","s":3,"v":1.53},{"e":"T","prob":"0.3","bar":3,"kind":"Training","s":4,"v":2.05},{"e":"T","prob":"0.3","bar":4,"kind":"Testing","s":1,"v":0.79},{"e":"T","prob":"0.3","bar":5,"kind":"Testing","s":2,"v":-0.07},{"e":"T","prob":"0.3","bar":6,"kind":"Testing","s":3,"v":-0.6},{"e":"T","prob":"0.3","bar":7,"kind":"Testing","s":4,"v":-0.6},
{"e":"T","prob":"0.4","bar":0,"kind":"Training","s":1,"v":0.62},{"e":"T","prob":"0.4","bar":1,"kind":"Training","s":2,"v":1.17},{"e":"T","prob":"0.4","bar":2,"kind":"Training","s":3,"v":1.47},{"e":"T","prob":"0.4","bar":3,"kind":"Training","s":4,"v":1.85},{"e":"T","prob":"0.4","bar":4,"kind":"Testing","s":1,"v":-0.05},{"e":"T","prob":"0.4","bar":5,"kind":"Testing","s":2,"v":-0.6},{"e":"T","prob":"0.4","bar":6,"kind":"Testing","s":3,"v":-0.6},{"e":"T","prob":"0.4","bar":7,"kind":"Testing","s":4,"v":-0.6},
{"e":"T","prob":"0.5","bar":0,"kind":"Training","s":1,"v":0.38},{"e":"T","prob":"0.5","bar":1,"kind":"Training","s":2,"v":1.37},{"e":"T","prob":"0.5","bar":2,"kind":"Training","s":3,"v":1.49},{"e":"T","prob":"0.5","bar":3,"kind":"Training","s":4,"v":1.93},{"e":"T","prob":"0.5","bar":4,"kind":"Testing","s":1,"v":-0.36},{"e":"T","prob":"0.5","bar":5,"kind":"Testing","s":2,"v":-0.6},{"e":"T","prob":"0.5","bar":6,"kind":"Testing","s":3,"v":-0.6},{"e":"T","prob":"0.5","bar":7,"kind":"Testing","s":4,"v":-0.6}
]
},
"hconcat": [
{
  "data": {"name": "lines"},
  "title": {"text": "(a) Learning curves.", "orient": "bottom", "anchor": "middle", "font": "Liberation Serif", "fontSize": 21, "offset": 18, "dx": 7, "color": "#000000"},
  "spacing": 19,
  "resolve": {"scale": {"color": "independent"}, "legend": {"color": "independent"}},
  "vconcat": [
    {
      "title": {"text": "(i) BASIC", "orient": "bottom", "anchor": "start", "frame": "bounds", "fontSize": 16, "dx": -18, "offset": -2, "color": "#000000"},
      "spacing": 30, "bounds": "flush",
      "resolve": {"scale": {"color": "independent"}, "legend": {"color": "independent"}},
      "hconcat": [
        {
          "width": 246, "height": 120,
          "title": {"text": "1e9", "orient": "bottom", "anchor": "end", "frame": "group", "fontSize": 14, "offset": -14},
          "transform": [{"filter": "datum.e == 'B' && datum.p == 'tr'"}],
          "encoding": {
            "x": {"field": "x", "type": "quantitative", "scale": {"domain": [-0.01, 1.22], "nice": false, "zero": false}, "axis": {"values": [0, 0.5, 1], "format": ".1f", "title": "Training steps", "labelPadding": 3, "titlePadding": 2}},
            "y": {"field": "y", "type": "quantitative", "scale": {"domain": [-1, 2.15], "nice": false}, "axis": {"values": [-1, 0, 1, 2], "title": "Episode rewards", "labelPadding": 15, "titlePadding": 2}},
            "color": {"field": "l", "type": "nominal", "scale": {"domain": ["10", "100", "1000", "10000"], "range": ["#008fd5", "#fc4f30", "#e5ae38", "#6d904f"]}, "legend": {"title": null, "orient": "bottom-right", "offset": 2, "fillColor": "rgba(240,240,240,0.5)", "strokeColor": "#cccccc", "cornerRadius": 4, "padding": 6, "labelFontSize": 15, "labelColor": "#222222", "labelLimit": 0, "labelExpr": "'# train levels = ' + datum.label", "symbolType": "M-2,0L2,0", "symbolSize": 225, "symbolStrokeWidth": 5, "symbolOpacity": 1, "labelOffset": 22, "rowPadding": 3}},
            "detail": {"field": "r", "type": "nominal"}
          },
          "layer": [
            {"transform": [{"filter": "datum.r > 0"}], "mark": {"type": "line", "strokeWidth": 1.3, "opacity": 0.3, "clip": true}},
            {"transform": [{"filter": "datum.r == 0"}], "mark": {"type": "line", "strokeWidth": 4.5, "clip": true}}
          ]
        },
        {
          "width": 255, "height": 120,
          "title": {"text": "1e9", "orient": "bottom", "anchor": "end", "frame": "group", "fontSize": 14, "offset": -14},
          "transform": [{"filter": "datum.e == 'B' && datum.p == 'te'"}],
          "encoding": {
            "x": {"field": "x", "type": "quantitative", "scale": {"domain": [-0.03, 1.264], "nice": false, "zero": false}, "axis": {"values": [0, 0.5, 1], "format": ".1f", "title": "Training steps", "labelPadding": 3, "titlePadding": 2}},
            "y": {"field": "y", "type": "quantitative", "scale": {"domain": [-1, 2.15], "nice": false}, "axis": {"values": [-1, 0, 1, 2], "labels": false, "title": null}},
            "color": {"field": "l", "type": "nominal", "scale": {"domain": ["10", "100", "1000", "10000"], "range": ["#008fd5", "#fc4f30", "#e5ae38", "#6d904f"]}, "legend": null},
            "detail": {"field": "r", "type": "nominal"}
          },
          "layer": [
            {"transform": [{"filter": "datum.r > 0"}], "mark": {"type": "line", "strokeWidth": 1.3, "opacity": 0.3, "clip": true}},
            {"transform": [{"filter": "datum.r == 0"}], "mark": {"type": "line", "strokeWidth": 4.5, "clip": true}}
          ]
        }
      ]
    },
    {
      "title": {"text": "(ii) BLOCKS", "orient": "bottom", "anchor": "start", "frame": "bounds", "fontSize": 16, "dx": -8, "offset": -2, "color": "#000000"},
      "spacing": 30, "bounds": "flush",
      "resolve": {"scale": {"color": "independent"}, "legend": {"color": "independent"}},
      "hconcat": [
        {
          "width": 246, "height": 120,
          "title": {"text": "1e9", "orient": "bottom", "anchor": "end", "frame": "group", "fontSize": 14, "offset": -14},
          "transform": [{"filter": "datum.e == 'K' && datum.p == 'tr'"}],
          "encoding": {
            "x": {"field": "x", "type": "quantitative", "scale": {"domain": [-0.01, 1.208], "nice": false, "zero": false}, "axis": {"values": [0, 0.5, 1], "format": ".1f", "title": "Training steps", "labelPadding": 3, "titlePadding": 2}},
            "y": {"field": "y", "type": "quantitative", "scale": {"domain": [-1, 2.15], "nice": false}, "axis": {"values": [-1, 0, 1, 2], "title": "Episode rewards", "labelPadding": 15, "titlePadding": 2}},
            "color": {"field": "l", "type": "nominal", "scale": {"domain": ["10", "100", "1000", "10000"], "range": ["#008fd5", "#fc4f30", "#e5ae38", "#6d904f"]}, "legend": {"title": null, "orient": "bottom-right", "offset": 2, "fillColor": "rgba(240,240,240,0.5)", "strokeColor": "#cccccc", "cornerRadius": 4, "padding": 6, "labelFontSize": 15, "labelColor": "#222222", "labelLimit": 0, "labelExpr": "'# train levels = ' + datum.label", "symbolType": "M-2,0L2,0", "symbolSize": 225, "symbolStrokeWidth": 5, "symbolOpacity": 1, "labelOffset": 22, "rowPadding": 3}},
            "detail": {"field": "r", "type": "nominal"}
          },
          "layer": [
            {"transform": [{"filter": "datum.r > 0"}], "mark": {"type": "line", "strokeWidth": 1.3, "opacity": 0.3, "clip": true}},
            {"transform": [{"filter": "datum.r == 0"}], "mark": {"type": "line", "strokeWidth": 4.5, "clip": true}}
          ]
        },
        {
          "width": 255, "height": 120,
          "title": {"text": "1e9", "orient": "bottom", "anchor": "end", "frame": "group", "fontSize": 14, "offset": -14},
          "transform": [{"filter": "datum.e == 'K' && datum.p == 'te'"}],
          "encoding": {
            "x": {"field": "x", "type": "quantitative", "scale": {"domain": [-0.02, 1.23], "nice": false, "zero": false}, "axis": {"values": [0, 0.5, 1], "format": ".1f", "title": "Training steps", "labelPadding": 3, "titlePadding": 2}},
            "y": {"field": "y", "type": "quantitative", "scale": {"domain": [-1, 2.15], "nice": false}, "axis": {"values": [-1, 0, 1, 2], "labels": false, "title": null}},
            "color": {"field": "l", "type": "nominal", "scale": {"domain": ["10", "100", "1000", "10000"], "range": ["#008fd5", "#fc4f30", "#e5ae38", "#6d904f"]}, "legend": null},
            "detail": {"field": "r", "type": "nominal"}
          },
          "layer": [
            {"transform": [{"filter": "datum.r > 0"}], "mark": {"type": "line", "strokeWidth": 1.3, "opacity": 0.3, "clip": true}},
            {"transform": [{"filter": "datum.r == 0"}], "mark": {"type": "line", "strokeWidth": 4.5, "clip": true}}
          ]
        }
      ]
    },
    {
      "title": {"text": "(iii) TUNNEL", "orient": "bottom", "anchor": "start", "frame": "bounds", "fontSize": 16, "dx": -8, "offset": -2, "color": "#000000"},
      "spacing": 30, "bounds": "flush",
      "resolve": {"scale": {"color": "independent"}, "legend": {"color": "independent"}},
      "hconcat": [
        {
          "width": 246, "height": 120,
          "title": {"text": "1e9", "orient": "bottom", "anchor": "end", "frame": "group", "fontSize": 14, "offset": -14},
          "transform": [{"filter": "datum.e == 'T' && datum.p == 'tr'"}],
          "encoding": {
            "x": {"field": "x", "type": "quantitative", "scale": {"domain": [0, 1.23], "nice": false, "zero": false}, "axis": {"values": [0, 0.5, 1], "format": ".1f", "title": "Training steps", "labelPadding": 3, "titlePadding": 2}},
            "y": {"field": "y", "type": "quantitative", "scale": {"domain": [-1, 2.15], "nice": false}, "axis": {"values": [-1, 0, 1, 2], "title": "Episode rewards", "labelPadding": 15, "titlePadding": 2}},
            "color": {"field": "l", "type": "nominal", "scale": {"domain": ["10", "100", "1000", "10000"], "range": ["#008fd5", "#fc4f30", "#e5ae38", "#6d904f"]}, "legend": {"title": null, "orient": "bottom-right", "offset": 2, "fillColor": "rgba(240,240,240,0.5)", "strokeColor": "#cccccc", "cornerRadius": 4, "padding": 6, "labelFontSize": 15, "labelColor": "#222222", "labelLimit": 0, "labelExpr": "'# train levels = ' + datum.label", "symbolType": "M-2,0L2,0", "symbolSize": 225, "symbolStrokeWidth": 5, "symbolOpacity": 1, "labelOffset": 22, "rowPadding": 3}},
            "detail": {"field": "r", "type": "nominal"}
          },
          "layer": [
            {"transform": [{"filter": "datum.r > 0"}], "mark": {"type": "line", "strokeWidth": 1.3, "opacity": 0.3, "clip": true}},
            {"transform": [{"filter": "datum.r == 0"}], "mark": {"type": "line", "strokeWidth": 4.5, "clip": true}}
          ]
        },
        {
          "width": 255, "height": 120,
          "title": {"text": "1e9", "orient": "bottom", "anchor": "end", "frame": "group", "fontSize": 14, "offset": -14},
          "transform": [{"filter": "datum.e == 'T' && datum.p == 'te'"}],
          "encoding": {
            "x": {"field": "x", "type": "quantitative", "scale": {"domain": [0.034, 1.272], "nice": false, "zero": false}, "axis": {"values": [0.5, 1], "format": ".1f", "title": "Training steps", "labelPadding": 3, "titlePadding": 2}},
            "y": {"field": "y", "type": "quantitative", "scale": {"domain": [-1, 2.15], "nice": false}, "axis": {"values": [-1, 0, 1, 2], "labels": false, "title": null}},
            "color": {"field": "l", "type": "nominal", "scale": {"domain": ["10", "100", "1000", "10000"], "range": ["#008fd5", "#fc4f30", "#e5ae38", "#6d904f"]}, "legend": null},
            "detail": {"field": "r", "type": "nominal"}
          },
          "layer": [
            {"transform": [{"filter": "datum.r > 0"}], "mark": {"type": "line", "strokeWidth": 1.3, "opacity": 0.3, "clip": true}},
            {"transform": [{"filter": "datum.r == 0"}], "mark": {"type": "line", "strokeWidth": 4.5, "clip": true}}
          ]
        }
      ]
    }
  ]
},
{
  "data": {"name": "bars"},
  "title": {"text": "(b) Tests on randomized mazes.", "orient": "bottom", "anchor": "middle", "font": "Liberation Serif", "fontSize": 21, "offset": 32, "dx": 28, "color": "#000000"},
  "spacing": 23, "bounds": "flush",
  "resolve": {"scale": {"color": "independent", "opacity": "independent", "xOffset": "independent"}, "legend": {"color": "independent", "opacity": "independent"}},
  "vconcat": [
    {
      "width": 448, "height": 156,
      "title": {"text": "(i) BASIC", "anchor": "start", "frame": "bounds", "fontSize": 16, "offset": -10, "dx": -5, "dy": 6, "color": "#000000"},
      "transform": [{"filter": "datum.e == 'B'"}],
      "mark": {"type": "bar", "clip": true},
      "encoding": {
        "x": {"field": "prob", "type": "ordinal", "scale": {"paddingInner": 0.19, "paddingOuter": 0.164, "align": 0.21}, "axis": {"grid": true, "bandPosition": 0.5, "labels": false, "title": null}},
        "xOffset": {"field": "bar", "type": "ordinal", "scale": {"paddingInner": 0, "paddingOuter": 0}},
        "y": {"field": "v", "type": "quantitative", "scale": {"domain": [-0.47, 2.68], "nice": false}, "axis": {"values": [0, 1, 2], "title": "Final reward", "labelPadding": 21, "titlePadding": 0}},
        "color": {"field": "kind", "type": "nominal", "scale": {"domain": ["Training", "Testing"], "range": ["#008fd5", "#fc4f30"]}, "legend": {"title": null, "orient": "top-right", "offset": 6, "direction": "horizontal", "fillColor": "rgba(240,240,240,0.8)", "strokeColor": "#cccccc", "cornerRadius": 4, "padding": 5, "labelFontSize": 15, "labelColor": "#222222", "symbolType": "M-2,-0.714L2,-0.714L2,0.714L-2,0.714Z", "symbolSize": 196, "symbolOpacity": 1, "symbolStrokeWidth": 0, "labelOffset": 17, "columnPadding": 21}},
        "opacity": {"field": "s", "type": "nominal", "scale": {"type": "ordinal", "domain": [1, 2, 3, 4], "range": [1, 0.75, 0.5, 0.3]}, "legend": null}
      }
    },
    {
      "width": 448, "height": 156,
      "title": {"text": "(ii) BLOCKS", "anchor": "start", "frame": "bounds", "fontSize": 16, "offset": -10, "dx": -5, "dy": 6, "color": "#000000"},
      "transform": [{"filter": "datum.e == 'K'"}],
      "mark": {"type": "bar", "clip": true},
      "encoding": {
        "x": {"field": "prob", "type": "ordinal", "scale": {"paddingInner": 0.19, "paddingOuter": 0.164, "align": 0.21}, "axis": {"grid": true, "bandPosition": 0.5, "labels": false, "title": null}},
        "xOffset": {"field": "bar", "type": "ordinal", "scale": {"paddingInner": 0, "paddingOuter": 0}},
        "y": {"field": "v", "type": "quantitative", "scale": {"domain": [-0.47, 2.68], "nice": false}, "axis": {"values": [0, 1, 2], "title": "Final reward", "labelPadding": 21, "titlePadding": 0}},
        "color": {"field": "kind", "type": "nominal", "scale": {"domain": ["Training", "Testing"], "range": ["#008fd5", "#fc4f30"]}, "legend": {"title": null, "orient": "top-right", "offset": 6, "direction": "horizontal", "fillColor": "rgba(240,240,240,0.8)", "strokeColor": "#cccccc", "cornerRadius": 4, "padding": 5, "labelFontSize": 15, "labelColor": "#222222", "symbolType": "M-2,-0.714L2,-0.714L2,0.714L-2,0.714Z", "symbolSize": 196, "symbolOpacity": 1, "symbolStrokeWidth": 0, "labelOffset": 17, "columnPadding": 21}},
        "opacity": {"field": "s", "type": "nominal", "scale": {"type": "ordinal", "domain": [1, 2, 3, 4], "range": [1, 0.75, 0.5, 0.3]}, "legend": null}
      }
    },
    {
      "width": 448, "height": 156,
      "title": {"text": "(iii) TUNNEL", "anchor": "start", "frame": "bounds", "fontSize": 16, "offset": -10, "dx": -5, "dy": 6, "color": "#000000"},
      "transform": [{"filter": "datum.e == 'T'"}],
      "mark": {"type": "bar", "clip": true},
      "encoding": {
        "x": {"field": "prob", "type": "ordinal", "scale": {"paddingInner": 0.19, "paddingOuter": 0.164, "align": 0.21}, "axis": {"grid": true, "bandPosition": 0.5, "labelAngle": 0, "labelPadding": 7, "title": "Probability of flipping object reward signs", "titleFontSize": 16, "titlePadding": 3}},
        "xOffset": {"field": "bar", "type": "ordinal", "scale": {"paddingInner": 0, "paddingOuter": 0}},
        "y": {"field": "v", "type": "quantitative", "scale": {"domain": [-0.47, 2.68], "nice": false}, "axis": {"values": [0, 1, 2], "title": "Final reward", "labelPadding": 21, "titlePadding": 0}},
        "color": {"field": "kind", "type": "nominal", "scale": {"domain": ["Training", "Testing"], "range": ["#008fd5", "#fc4f30"]}, "legend": {"title": null, "orient": "top-right", "offset": 6, "direction": "horizontal", "fillColor": "rgba(240,240,240,0.8)", "strokeColor": "#cccccc", "cornerRadius": 4, "padding": 5, "labelFontSize": 15, "labelColor": "#222222", "symbolType": "M-2,-0.714L2,-0.714L2,0.714L-2,0.714Z", "symbolSize": 196, "symbolOpacity": 1, "symbolStrokeWidth": 0, "labelOffset": 17, "columnPadding": 21}},
        "opacity": {"field": "s", "type": "nominal", "scale": {"type": "ordinal", "domain": [1, 2, 3, 4], "range": [1, 0.75, 0.5, 0.3]}, "legend": null}
      }
    }
  ]
}
],
"spacing": 64,
"resolve": {"scale": {"color": "independent", "opacity": "independent", "xOffset": "independent"}, "legend": {"color": "independent", "opacity": "independent"}}
}
